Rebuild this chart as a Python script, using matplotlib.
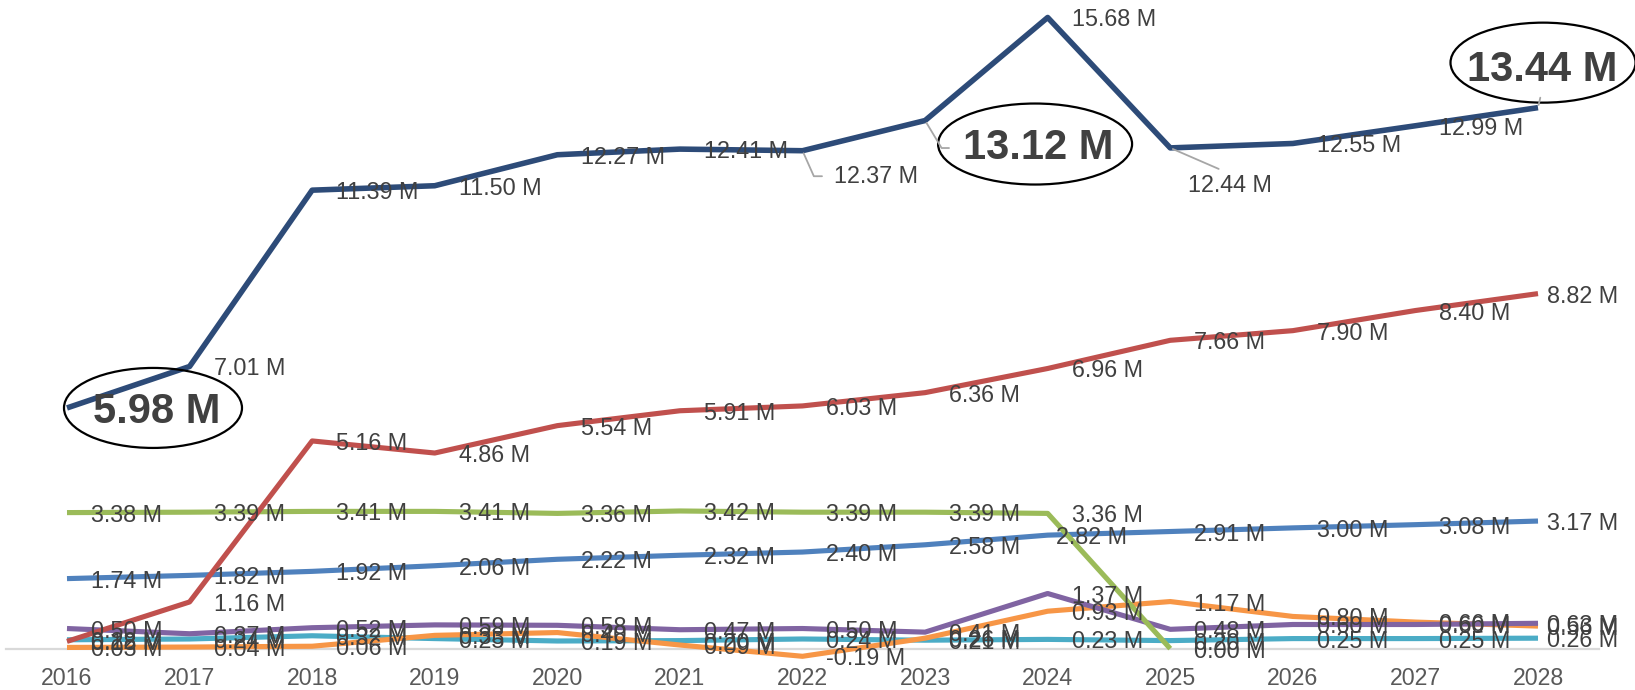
import numpy as np
import matplotlib
matplotlib.use('Agg')
import matplotlib.pyplot as plt
import matplotlib.transforms as mtransforms
from matplotlib.patches import Ellipse

plt.rcParams['font.family'] = ['Liberation Sans', 'DejaVu Sans']

# data (values in millions)
years = [2016, 2017, 2018, 2019, 2020, 2021, 2022, 2023, 2024, 2025, 2026, 2027, 2028]
navy = [5.98, 7.01, 11.39, 11.50, 12.27, 12.41, 12.37, 13.12, 15.68, 12.44, 12.55, 12.99, 13.44]
red = [0.18, 1.16, 5.16, 4.86, 5.54, 5.91, 6.03, 6.36, 6.96, 7.66, 7.90, 8.40, 8.82]
green = [3.38, 3.39, 3.41, 3.41, 3.36, 3.42, 3.39, 3.39, 3.36, 0.00, None, None, None]
blue = [1.74, 1.82, 1.92, 2.06, 2.22, 2.32, 2.40, 2.58, 2.82, 2.91, 3.00, 3.08, 3.17]
purple = [0.50, 0.37, 0.52, 0.59, 0.58, 0.47, 0.50, 0.41, 1.37, 0.48, 0.60, 0.60, 0.63]
teal = [0.22, 0.24, 0.32, 0.25, 0.19, 0.20, 0.24, 0.21, 0.23, 0.20, 0.25, 0.25, 0.26]
orange = [0.03, 0.04, 0.06, 0.33, 0.40, 0.09, -0.19, 0.26, 0.93, 1.17, 0.80, 0.66, 0.56]

# drawing order: bottom -> top
series = [
    ('teal', teal, '#4BACC6'),
    ('orange', orange, '#F79646'),
    ('purple', purple, '#8064A2'),
    ('blue', blue, '#4F81BD'),
    ('green', green, '#9BBB59'),
    ('red', red, '#C0504D'),
    ('navy', navy, '#2D4B78'),
]

LABEL_C = '#404040'
LEAD_C = '#A6A6A6'
FS = 16.8

fig = plt.figure(figsize=(16.35, 6.9), dpi=100)
ax = fig.add_axes([5.7 / 1635, 1.1 / 690, 1593.6 / 1635, 684.3 / 690])
ax.set_xlim(2015.5, 2028.5)
ax.set_ylim(-1, 16)

for name, vals, color in series:
    y = np.array([np.nan if v is None else v for v in vals], dtype=float)
    lw = 4.0 if name == 'navy' else 3.7
    ax.plot(years, y, color=color, lw=lw, solid_joinstyle='round',
            solid_capstyle='butt', zorder=3)

# axis styling
for s in ['top', 'right', 'left']:
    ax.spines[s].set_visible(False)
ax.spines['bottom'].set_position(('data', 0))
ax.spines['bottom'].set_color('#D9D9D9')
ax.spines['bottom'].set_linewidth(1.6)
ax.spines['bottom'].set_zorder(2)
ax.set_yticks([])
ax.set_xticks(years)
ax.set_xticklabels([str(y) for y in years])
ax.tick_params(axis='x', length=0, pad=13.5, labelsize=16.7, labelcolor='#595959')


def oval(x, y, dx, dy, w, h):
    tr = mtransforms.Affine2D().translate(dx, dy) + \
        mtransforms.ScaledTranslation(x, y, ax.transData)
    ax.add_patch(Ellipse((0, 0), w, h, transform=tr, fill=False,
                         ec='black', lw=1.6, zorder=11, clip_on=False))


# big callouts
big = {
    ('navy', 2016): dict(off=(90, 0), ell=(86, 0, 178, 80), lead=None),
    ('navy', 2023): dict(off=(113, -23), ell=(110, -23.5, 194, 81),
                         lead=dict(relpos=(0, 0.5), shrinkA=8,
                                   connectionstyle='angle,angleA=0,angleB=-59,rad=0')),
    ('navy', 2028): dict(off=(4, 42), ell=(5, 45, 185, 80),
                         lead=dict(relpos=(0.5, 0), shrinkA=3.5,
                                   connectionstyle='arc3')),
}
# moved small labels
moved = {
    ('navy', 2022): dict(off=(32, -23),
                         lead=dict(relpos=(0, 0.5), shrinkA=7,
                                   connectionstyle='angle,angleA=0,angleB=-66,rad=0')),
    ('navy', 2025): dict(off=(18, -35),
                         lead=dict(relpos=(0.5, 1), shrinkA=4,
                                   connectionstyle='arc3')),
    ('blue', 2024): dict(off=(8, 0), lead=None),
}

for name, vals, color in series:
    for yr, v in zip(years, vals):
        if v is None:
            continue
        txt = f'{v:.2f} M'
        key = (name, yr)
        if key in big:
            b = big[key]
            ap = None
            if b['lead'] is not None:
                ap = dict(arrowstyle='-', color=LEAD_C, lw=1.3, shrinkB=2, **b['lead'])
            ax.annotate(txt, (yr, v), xytext=b['off'], textcoords='offset pixels',
                        ha='center', va='center_baseline', fontsize=30,
                        fontweight='bold', color=LABEL_C, zorder=12,
                        arrowprops=ap)
            ex, ey, ew, eh = b['ell']
            oval(yr, v, ex, ey, ew, eh)
        elif key in moved:
            m = moved[key]
            ap = None
            if m['lead'] is not None:
                ap = dict(arrowstyle='-', color=LEAD_C, lw=1.3, shrinkB=2, **m['lead'])
            ax.annotate(txt, (yr, v), xytext=m['off'], textcoords='offset pixels',
                        ha='left', va='center_baseline', fontsize=FS,
                        color=LABEL_C, zorder=12, arrowprops=ap)
        else:
            dx = 9 if yr == years[-1] else 24
            ax.annotate(txt, (yr, v), xytext=(dx, 0), textcoords='offset pixels',
                        ha='left', va='center_baseline', fontsize=FS,
                        color=LABEL_C, zorder=12)

fig.savefig('out.png', dpi=100)
